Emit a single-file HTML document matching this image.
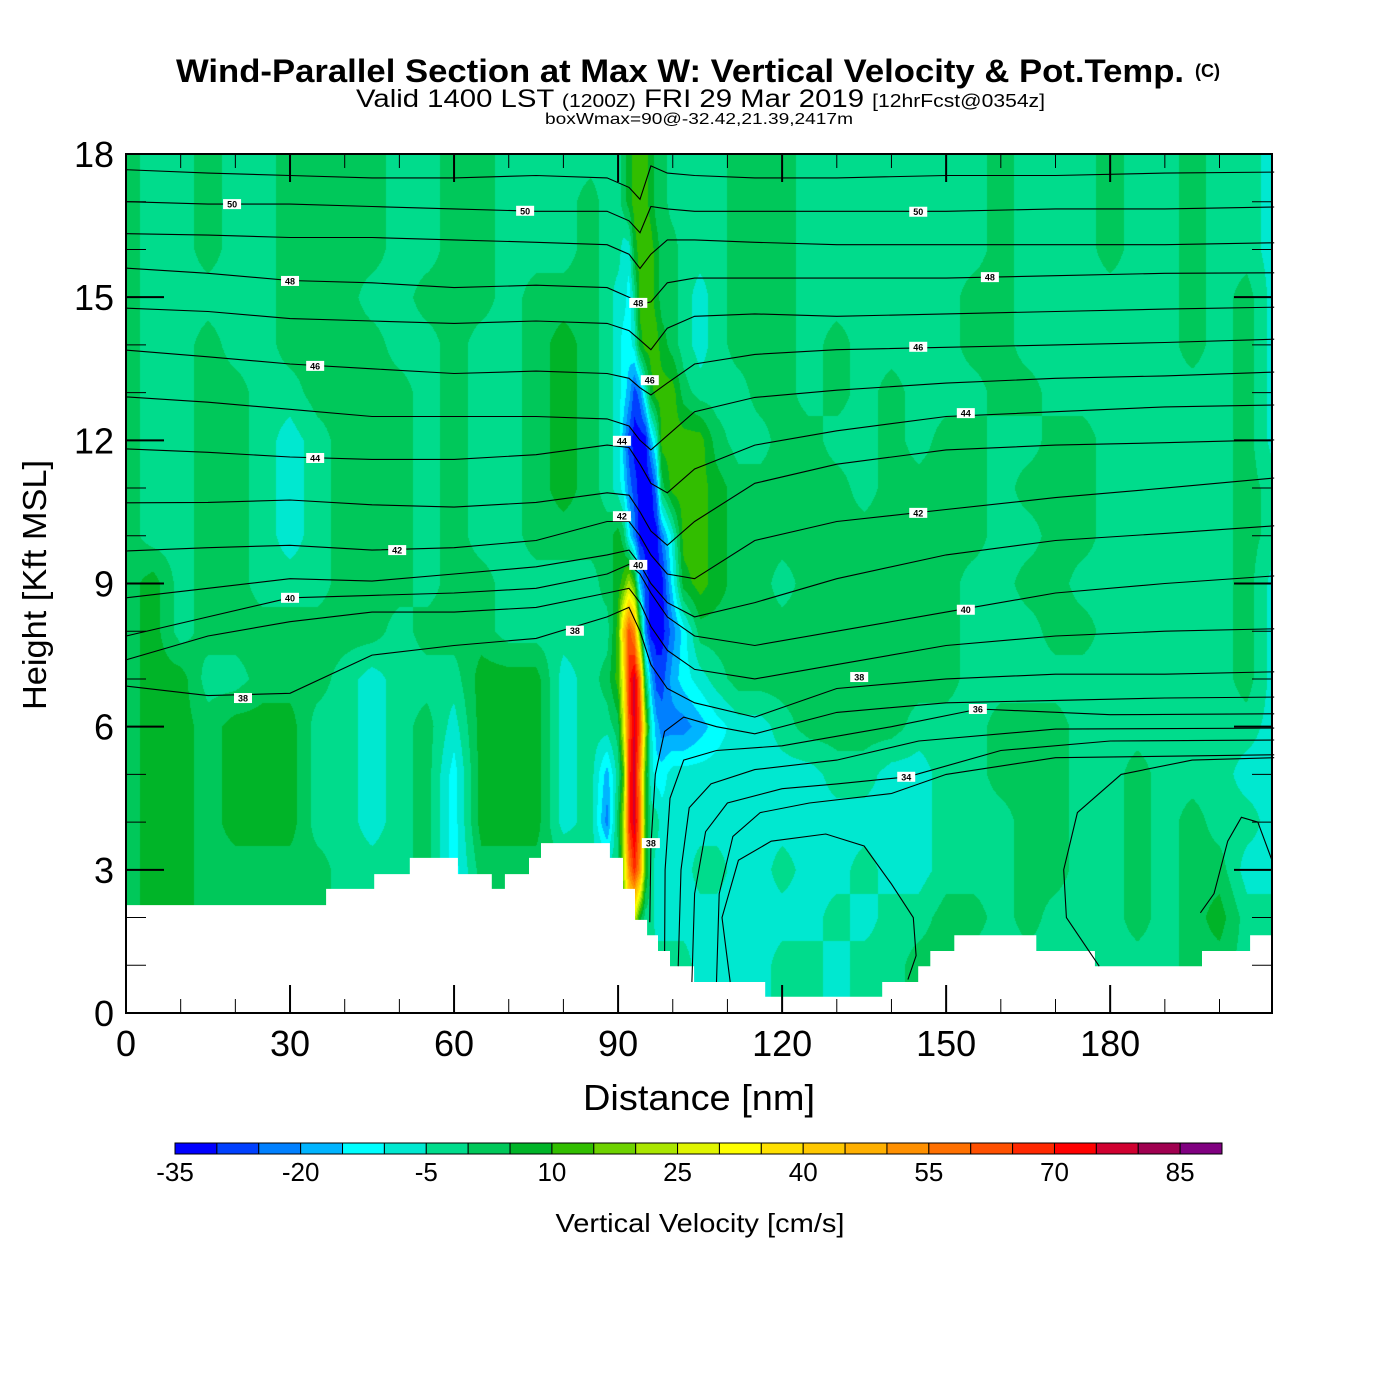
<!DOCTYPE html>
<html><head><meta charset="utf-8">
<style>
html,body{margin:0;padding:0;background:#fff;}
#wrap{position:relative;width:1400px;height:1400px;overflow:hidden;font-family:"Liberation Sans",Arial,sans-serif;}
#field{position:absolute;left:126px;top:154px;}
#ov{position:absolute;left:0;top:0;}
</style></head>
<body>
<div id="wrap">
<canvas id="field" width="1146" height="859"></canvas>
<svg id="ov" width="1400" height="1400" xmlns="http://www.w3.org/2000/svg">
  <g id="titles">
    <text x="176" y="82" font-size="32" font-weight="bold" textLength="1008" lengthAdjust="spacingAndGlyphs">Wind-Parallel Section at Max W: Vertical Velocity &amp; Pot.Temp.</text>
    <text x="1195" y="77" font-size="18" font-weight="bold">(C)</text>
    <text x="356" y="107" font-size="25" textLength="689" lengthAdjust="spacingAndGlyphs">Valid 1400 LST <tspan font-size="18">(1200Z)</tspan> FRI 29 Mar 2019 <tspan font-size="18">[12hrFcst@0354z]</tspan></text>
    <text x="545" y="124" font-size="16" textLength="308" lengthAdjust="spacingAndGlyphs">boxWmax=90@-32.42,21.39,2417m</text>
  </g>
  <g id="terrain"></g>
  <g id="isentropes"></g>
  <g id="clabels"></g>
  <rect x="126" y="154" width="1146" height="859" fill="none" stroke="#000" stroke-width="2"/>
  <g id="ticks"></g>
  <g id="xlabels"></g>
  <g id="ylabels"></g>
  <text x="699" y="1110" font-size="36" text-anchor="middle" textLength="232" lengthAdjust="spacingAndGlyphs">Distance [nm]</text>
  <text transform="translate(46,585) rotate(-90)" font-size="33" text-anchor="middle" textLength="250" lengthAdjust="spacingAndGlyphs">Height [Kft MSL]</text>
  <g id="cbar"></g>
  <g id="cbarlabels"></g>
  <text x="700" y="1232" font-size="26" text-anchor="middle" textLength="289" lengthAdjust="spacingAndGlyphs">Vertical Velocity [cm/s]</text>
</svg>
</div>
<script>
// ---------------- data ----------------
const palette = ["#0000ff","#0040ff","#0080ff","#00b4ff","#00ffff","#00e8d0","#00dc8c","#00c85a","#00b428","#32be00","#6ed200","#aae600","#e0f500","#ffff00","#ffe000","#ffc800","#ffb000","#ff9000","#ff7000","#ff5000","#ff2800","#ff0000","#d00030","#a00050","#800080"];
const colorbarTicks = [-35,-20,-5,10,25,40,55,70,85];
const xTicks = [0,30,60,90,120,150,180];
const yTicks = [0,3,6,9,12,15,18];
// field columns (nm) and rows (kft 0..18); chars = colour bin index (0-9,a-o)
const fieldCols = [0,5,10,15,20,25,30,35,40,45,50,55,60,65,70,75,80,85,88,90,91,92,93,94,95,96,97,98,100,102,105,108,112,116,120,125,130,135,140,145,150,155,160,165,170,175,180,185,190,195,200,205,210];
const fieldRows = [
 "788777776667477776"+"6666666666"+"665555"+"6656677666666667766",
 "788777776667477776"+"6666666666"+"665555"+"6656677666666667766",
 "788777776667477776"+"669cc86655"+"555555"+"5565667767666767866",
 "788777776667477776"+"66bhkh9655"+"556655"+"6556556667766767755",
 "788788866567488856"+"27bkmi9665"+"555555"+"5555556667766767665",
 "788788866567488856"+"369kmh9544"+"555555"+"5566556677766766655",
 "788788866567588856"+"67cjmjb532"+"223455"+"6777766677766666665",
 "788667776566688856"+"79dkmi7311"+"345677"+"7777777666666666675",
 "786777777767776666"+"69fjh92000"+"247777"+"7777777666776666675",
 "786776667776776666"+"789b931000"+"489877"+"6777777667766666675",
 "766776567776766777"+"7874200002"+"599877"+"7777777766776666676",
 "766776567776766787"+"6542100027"+"999877"+"7776777767776666676",
 "766776567776766787"+"6531000359"+"999766"+"7766767766776666675",
 "766776677776766787"+"6543125899"+"976667"+"7676766677666666675",
 "766766777766766787"+"6544589998"+"765677"+"7676666776666667675",
 "766666777667776777"+"6554699987"+"765677"+"7666666776666667675",
 "766766777766776667"+"6655899987"+"766677"+"7666666676667667665",
 "766766777766776667"+"6678999877"+"666677"+"7666666676667667665",
 "766766777766776666"+"6678999877"+"666677"+"7666666676667667665"
];
// terrain steps
const terrainEdges = [0,36.6,45.4,51.9,60.7,66.9,69.3,73.7,75.9,88.5,90.9,93.1,95.3,97.3,99.5,103.9,116.9,138.3,144.9,147.1,151.5,166.5,177.2,196.8,205.6,209.6];
const terrainHeights = [2.26,2.6,2.91,3.25,2.91,2.6,2.91,3.25,3.56,3.25,2.6,1.95,1.63,1.3,0.98,0.65,0.34,0.65,0.98,1.3,1.63,1.3,0.98,1.3,1.63];
// isentropes: common distance nodes for upper set
const isoNodes = [0,15,30,45,60,75,88,92,94,96,99,104,115,130,150,170,190,210];
const iso51 = [17.67,17.6,17.55,17.5,17.5,17.55,17.5,17.3,17.05,17.75,17.6,17.55,17.5,17.5,17.55,17.55,17.6,17.62];
const iso50 = [17.0,16.95,16.95,16.9,16.85,16.8,16.8,16.6,16.35,16.9,16.85,16.8,16.8,16.8,16.8,16.85,16.85,16.89];
const iso49 = [16.33,16.3,16.25,16.25,16.2,16.15,16.1,15.9,15.6,15.9,16.2,16.2,16.15,16.1,16.1,16.1,16.1,16.14];
const iso48 = [15.61,15.5,15.35,15.3,15.2,15.25,15.2,15.0,14.85,14.9,15.3,15.4,15.4,15.4,15.4,15.45,15.5,15.51];
const iso47 = [14.77,14.7,14.55,14.5,14.45,14.5,14.45,14.3,14.1,13.9,14.35,14.6,14.65,14.6,14.65,14.7,14.75,14.79];
const iso46 = [13.89,13.75,13.6,13.5,13.4,13.45,13.4,13.3,13.1,12.95,13.2,13.6,13.8,13.9,13.95,14.0,14.05,14.12];
const iso45 = [12.91,12.8,12.65,12.5,12.5,12.5,12.45,12.3,12.0,11.8,12.1,12.6,12.9,13.05,13.2,13.3,13.35,13.43];
const iso44 = [11.82,11.75,11.65,11.6,11.6,11.7,11.9,11.85,11.5,11.1,10.9,11.4,11.9,12.2,12.5,12.6,12.7,12.74];
const iso43 = [10.69,10.7,10.75,10.65,10.6,10.7,10.9,10.85,10.5,10.1,9.8,10.3,11.1,11.5,11.8,11.9,11.95,12.01];
const iso42 = [9.68,9.75,9.8,9.7,9.75,9.9,10.3,10.3,10.0,9.6,9.2,9.1,9.9,10.3,10.55,10.8,11.0,11.21];
const iso41 = [8.7,8.9,9.1,9.05,9.2,9.35,9.6,9.7,9.4,9.0,8.6,8.3,8.6,9.1,9.6,9.9,10.05,10.21];
const iso40 = [7.9,8.3,8.7,8.75,8.8,8.9,9.2,9.4,9.2,8.8,8.3,7.9,7.7,8.0,8.4,8.8,9.0,9.16];
const iso39 = [7.4,7.9,8.2,8.4,8.4,8.5,8.8,8.9,8.6,8.1,7.6,7.2,7.0,7.3,7.7,7.9,8.0,8.05];
const iso38 = [6.85,6.65,6.7,7.5,7.7,7.85,8.3,8.5,8.0,7.3,6.8,6.5,6.2,6.8,7.0,7.1,7.1,7.15];
const upperIsentropes = [iso51,iso50,iso49,iso48,iso47,iso46,iso45,iso44,iso43,iso42,iso41,iso40,iso39,iso38];
// lower isentropes rising from the surface east of the updraft: [distance, height] pairs
const iso37 = [[95.8,1.9],[96,3.5],[96.8,5.0],[98.5,5.9],[102,6.2],[108,6.0],[115,5.85],[130,6.3],[150,6.5],[170,6.55],[190,6.6],[210,6.62]];
const iso36 = [[98.5,1.3],[98.6,3.0],[99.5,4.5],[102,5.3],[108,5.5],[120,5.6],[140,6.0],[156,6.37],[180,6.25],[210,6.27]];
const iso35 = [[101,0.98],[101.5,3.0],[103,4.3],[107,4.8],[115,5.1],[130,5.3],[145,5.7],[170,5.95],[210,5.97]];
const iso34 = [[103.5,0.65],[104,2.5],[106,3.8],[110,4.4],[120,4.7],[130,4.8],[143,4.95],[160,5.5],[180,5.7],[210,5.72]];
const iso33 = [[108,0.65],[108.5,2.5],[111,3.7],[116,4.2],[125,4.4],[140,4.6],[150,5.0],[170,5.35],[210,5.41]];
const iso32a = [[110.5,0.65],[109,2.0],[112,3.2],[118,3.6],[128,3.75],[135,3.5],[140,2.7],[144,2.0],[144.5,1.2],[143,0.7]];
const iso32b = [[178,0.98],[172,2.0],[171.5,3.0],[174,4.2],[182,5.0],[195,5.3],[210,5.35]];
const iso32c = [[196.5,2.1],[199,2.5],[201.5,3.6],[204,4.1],[207,4.0],[209.6,3.2]];
const lowerIsentropes = [iso37,iso36,iso35,iso34,iso33,iso32a,iso32b,iso32c];
// contour labels
const labelDist = [19.4,73.0,144.9,30.0,158.0,93.7,34.6,144.9,95.8,34.6,153.6,90.7,49.6,90.7,144.9,30.0,93.7,153.6,82.1,21.4,134.1,155.8,142.7,96.0];
const labelHeight = [16.95,16.81,16.79,15.34,15.42,14.88,13.56,13.96,13.26,11.63,12.57,11.99,9.70,10.41,10.48,8.70,9.39,8.45,8.01,6.60,7.04,6.37,4.95,3.56];
const labelText = ["50","50","50","48","48","48","46","46","46","44","44","44","42","42","42","40","40","40","38","38","38","36","34","38"];

// ---------------- scales ----------------
const PX0=126, PX1=1272, PY0=154, PY1=1013, XMAX=209.6, YMAX=18;
function sx(nm){return PX0+nm*(PX1-PX0)/XMAX;}
function sy(k){return PY1-k*(PY1-PY0)/YMAX;}
const NS="http://www.w3.org/2000/svg";
function mk(tag,attrs,parent){const e=document.createElementNS(NS,tag);for(const k in attrs)e.setAttribute(k,attrs[k]);parent.appendChild(e);return e;}

// ---------------- field ----------------
(function(){
  const cv=document.getElementById('field');const ctx=cv.getContext('2d');
  const W=cv.width,H=cv.height;const img=ctx.createImageData(W,H);
  const vals=fieldRows.map(r=>Array.from(r).map(c=>c<='9'?c.charCodeAt(0)-48:c.charCodeAt(0)-87));
  const rgb=palette.map(h=>[parseInt(h.substr(1,2),16),parseInt(h.substr(3,2),16),parseInt(h.substr(5,2),16)]);
  const colJ=[],colT=[];
  for(let px=0;px<W;px++){
    const nm=(px+0.5)*XMAX/W;let j=0;
    while(j<fieldCols.length-2&&fieldCols[j+1]<nm)j++;
    colJ.push(j);colT.push(Math.min(1,Math.max(0,(nm-fieldCols[j])/(fieldCols[j+1]-fieldCols[j]))));
  }
  for(let py=0;py<H;py++){
    const k=(H-(py+0.5))*YMAX/H;let i=Math.min(17,Math.floor(k));const t=k-i;
    const r0=vals[i],r1=vals[i+1];
    for(let px=0;px<W;px++){
      const j=colJ[px],u=colT[px];
      const v=(1-t)*((1-u)*r0[j]+u*r0[j+1])+t*((1-u)*r1[j]+u*r1[j+1]);
      const b=Math.max(0,Math.min(24,Math.round(v)));const c=rgb[b];
      const o=(py*W+px)*4;img.data[o]=c[0];img.data[o+1]=c[1];img.data[o+2]=c[2];img.data[o+3]=255;
    }
  }
  ctx.putImageData(img,0,0);
})();

// ---------------- terrain ----------------
(function(){
  const g=document.getElementById('terrain');
  let d="M"+sx(0)+","+sy(0);
  for(let i=0;i<terrainHeights.length;i++){
    d+=" L"+sx(terrainEdges[i]).toFixed(1)+","+sy(terrainHeights[i]).toFixed(1);
    d+=" L"+sx(terrainEdges[i+1]).toFixed(1)+","+sy(terrainHeights[i]).toFixed(1);
  }
  d+=" L"+sx(XMAX)+","+sy(0)+" Z";
  const p=mk('path',{d:d,fill:'#fff',stroke:'none'},g);
  
  
})();

// ---------------- isentropes ----------------
(function(){
  const g=document.getElementById('isentropes');
  upperIsentropes.forEach((hs,idx)=>{
    const pts=hs.map((h,i)=>sx(isoNodes[i]).toFixed(1)+","+sy(h).toFixed(1)).join(" ");
    const l=mk('polyline',{points:pts,fill:'none',stroke:'#000','stroke-width':1.1},g);
    
    
  });
  lowerIsentropes.forEach((arr,idx)=>{
    const pts=arr.map(p=>sx(p[0]).toFixed(1)+","+sy(p[1]).toFixed(1)).join(" ");
    const l=mk('polyline',{points:pts,fill:'none',stroke:'#000','stroke-width':1.1},g);
    
    
  });
  const lg=document.getElementById('clabels');
  labelText.forEach((t,i)=>{
    const x=sx(labelDist[i]),y=sy(labelHeight[i]);
    const gg=mk('g',{},lg);
    
    
    mk('rect',{x:x-9,y:y-5,width:18,height:10,fill:'#fff'},gg);
    const tx=mk('text',{x:x,y:y+3.5,'font-size':9,'font-weight':'bold','text-anchor':'middle'},gg);
    tx.textContent=t;
  });
})();

// ---------------- axes ----------------
(function(){
  const g=document.getElementById('ticks');
  for(let v=0;v<=200;v+=10){
    const x=sx(v),major=(v%30===0);const L=major?28:14;
    const a=mk('line',{x1:x,y1:PY1,x2:x,y2:PY1-L,stroke:'#000','stroke-width':major?2:1},g);
    
    
    const b=mk('line',{x1:x,y1:PY0,x2:x,y2:PY0+L,stroke:'#000','stroke-width':major?2:1},g);
    
    
  }
  for(let v=0;v<=18;v++){
    const y=sy(v),major=(v%3===0);const L=major?38:20;
    const a=mk('line',{x1:PX0,y1:y,x2:PX0+L,y2:y,stroke:'#000','stroke-width':major?2:1},g);
    
    
    const b=mk('line',{x1:PX1,y1:y,x2:PX1-L,y2:y,stroke:'#000','stroke-width':major?2:1},g);
    
    
  }
  const xl=document.getElementById('xlabels');
  xTicks.forEach(v=>{
    const t=mk('text',{x:sx(v),y:1056,'font-size':36,'text-anchor':'middle'},xl);
    
    
    t.textContent=v;
  });
  const yl=document.getElementById('ylabels');
  yTicks.forEach(v=>{
    const t=mk('text',{x:114,y:sy(v)+13,'font-size':36,'text-anchor':'end'},yl);
    
    
    t.textContent=v;
  });
})();

// ---------------- colorbar ----------------
(function(){
  const g=document.getElementById('cbar');
  const x0=175,x1=1222,w=(x1-x0)/palette.length;
  palette.forEach((c,i)=>{
    const r=mk('rect',{x:x0+i*w,y:1143,width:w,height:11,fill:c,stroke:'#000','stroke-width':1},g);
    
    
  });
  const gl=document.getElementById('cbarlabels');
  colorbarTicks.forEach(v=>{
    const i=(v+35)/5;
    const t=mk('text',{x:x0+i*w,y:1181,'font-size':26,'text-anchor':'middle'},gl);
    
    
    t.textContent=v;
  });
})();
</script>
</body></html>
